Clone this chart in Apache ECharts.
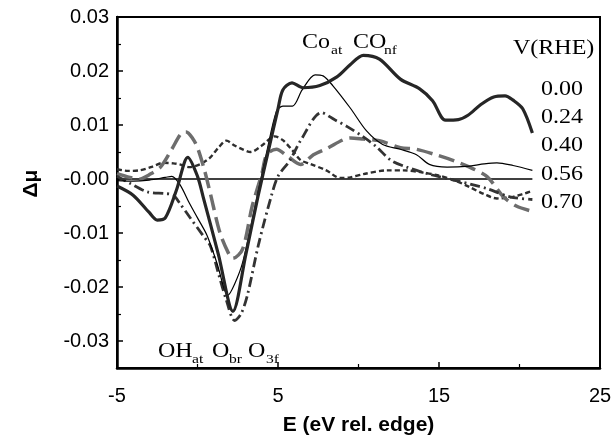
<!DOCTYPE html>
<html>
<head>
<meta charset="utf-8">
<script src="https://cdn.jsdelivr.net/npm/echarts@6/dist/echarts.min.js"></script>
<style>html,body{margin:0;padding:0;background:#fff}#c{width:615px;height:441px}</style>
</head>
<body>
<div id="c"></div>
<script>
// ---- data ----
var xTickValues = [-5, 5, 15, 25];
var xMinorTicks = [0, 10, 20];
var yTickValues = [-0.03, -0.02, -0.01, 0, 0.01, 0.02, 0.03];
var yTickLabels = ['-0.03', '-0.02', '-0.01', '-0.00', '0.01', '0.02', '0.03'];
var yMinorTicks = [-0.025, -0.015, -0.005, 0.005, 0.015, 0.025];
var voltageLabels = ['0.00', '0.24', '0.40', '0.56', '0.70'];

// 0.00 V : thick solid
var eA  = [-5, -4, -3, -2.5, -2, -1.3, -0.6, 0, 0.35, 1.3, 2.2, 3.0, 3.75, 4.5, 5.0, 5.3, 5.87, 6.55, 7.6, 8.66, 9.5, 10.3, 11.3, 12.6, 13.8, 14.6, 15.4, 16.2, 16.8, 17.6, 18.4, 19.1, 19.6, 20.2, 20.8];
var muA = [-0.0013, -0.003, -0.0062, -0.0076, -0.0072, -0.002, 0.004, 0.0005, -0.0033, -0.014, -0.0245, -0.014, -0.0033, 0.0065, 0.013, 0.0165, 0.0178, 0.0169, 0.0173, 0.0189, 0.0212, 0.0229, 0.0222, 0.0185, 0.0167, 0.0145, 0.0109, 0.011, 0.0118, 0.0138, 0.0152, 0.0154, 0.0146, 0.013, 0.0085];

// 0.24 V : thin solid
var eB  = [-5, -4, -3, -2, -1.6, -1.1, -0.5, 0, 0.6, 1.2, 1.9, 2.3, 2.8, 3.7, 4.3, 4.9, 5.3, 5.9, 6.5, 7.3, 7.8, 8.4, 9.5, 10.5, 11.5, 12.6, 13.6, 14.4, 15.5, 16.9, 17.8, 18.6, 19.6, 20.8];
var muB = [-0.0003, -0.0004, -0.0002, 0.0003, 0.0005, -0.001, -0.0045, -0.0072, -0.0105, -0.0155, -0.0215, -0.0195, -0.0155, -0.0033, 0.005, 0.0125, 0.0135, 0.0135, 0.0165, 0.0193, 0.0191, 0.0173, 0.0131, 0.0089, 0.0064, 0.0055, 0.0045, 0.0027, 0.0022, 0.0024, 0.0028, 0.003, 0.0025, 0.0016];

// 0.40 V : dash-dot
var eC  = [-5, -4.2, -3.1, -2, -1.5, -1.1, -0.5, 0.35, 0.8, 1.3, 1.8, 2.3, 2.7, 3.1, 3.8, 4.6, 5.0, 5.75, 6.4, 7.7, 8.5, 9.3, 10.3, 11.1, 12.0, 13.0, 14.5, 15.9, 17.0, 18.0, 19.4, 20.8];
var muC = [0.0005, -0.0008, -0.0024, -0.0027, -0.003, -0.0045, -0.007, -0.0105, -0.0124, -0.0175, -0.0225, -0.0262, -0.025, -0.0215, -0.012, -0.003, 0.0005, 0.0035, 0.0071, 0.0123, 0.011, 0.0097, 0.0078, 0.006, 0.0035, 0.0022, 0.0008, -0.0002, -0.001, -0.0018, -0.0033, -0.0038];

// 0.56 V : grey long dash
var eD  = [-5, -4.2, -3.6, -3, -2.3, -1.6, -1, -0.7, -0.3, 0, 0.4, 0.8, 1.4, 2.0, 2.2, 2.8, 3.4, 4.0, 4.3, 4.9, 5.6, 6.4, 7.2, 8.0, 9.5, 10.3, 11.3, 12.6, 13.6, 14.9, 16.0, 16.9, 18.0, 19.0, 19.8, 20.8];
var muD = [0.001, 0.0003, 0.0, 0.0008, 0.0022, 0.0055, 0.0085, 0.0087, 0.0075, 0.0058, 0.002, -0.0027, -0.01, -0.0142, -0.0147, -0.013, -0.005, 0.001, 0.0045, 0.0055, 0.0042, 0.0027, 0.0045, 0.0056, 0.0076, 0.0074, 0.0071, 0.0058, 0.0055, 0.0044, 0.0033, 0.0022, 0.0004, -0.0033, -0.005, -0.006];

// 0.70 V : short dash
var eE  = [-5, -4.3, -3.6, -2.9, -2.1, -1.5, -1.1, -0.5, 0.2, 0.8, 1.3, 1.8, 2.3, 2.8, 3.3, 4.0, 4.8, 5.3, 5.9, 6.4, 7.0, 8.0, 8.85, 9.5, 10.3, 11.8, 12.8, 14.0, 14.9, 16.0, 16.9, 17.8, 18.6, 19.6, 20.2, 20.8];
var muE = [0.0018, 0.0015, 0.0016, 0.0022, 0.003, 0.0029, 0.0027, 0.0022, 0.0028, 0.004, 0.0058, 0.0071, 0.0062, 0.0055, 0.005, 0.0062, 0.0079, 0.0072, 0.0053, 0.0035, 0.0028, 0.0016, 0.0002, 0.0003, 0.0009, 0.0016, 0.0016, 0.0012, 0.0007, -0.0003, -0.0015, -0.0028, -0.0036, -0.0033, -0.0028, -0.0022];

// zero reference line
var eZero = [-5, 20.8];
var muZero = [0, 0];

function pairs(xs, ys) { return xs.map(function (x, i) { return [x, ys[i]]; }); }

var chart = echarts.init(document.getElementById('c'), null, {renderer: 'canvas'});
var SANS = "'Liberation Sans', Arial, sans-serif";
var SERIF = "'Liberation Serif', 'Times New Roman', serif";

function txt(str, x, baseline, size) {
  return {
    type: 'text', x: x, y: baseline - 0.34 * size, scaleX: 1.2, z: 100,
    style: {text: str, font: size + 'px ' + SERIF, fill: '#000', textAlign: 'left', textVerticalAlign: 'middle', verticalAlign: 'middle'}
  };
}

var graphics = [
  txt('Co', 302, 50, 20), txt('at', 331, 55, 13),
  txt('CO', 353, 50, 20), txt('nf', 384, 55, 13),
  txt('V(RHE)', 513, 56, 20),
  txt('OH', 158, 359, 20), txt('at', 192, 364, 13),
  txt('O', 212, 359, 20), txt('br', 229, 364, 13),
  txt('O', 248, 359, 20), txt('3f', 266, 364, 13)
];
var vBase = [97, 125, 153, 182, 210];
voltageLabels.forEach(function (v, i) { graphics.push(txt(v, 541, vBase[i], 20)); });

var option = {
  animation: false,
  backgroundColor: '#fff',
  grid: {left: 117, right: 15, top: 17, bottom: 67, show: true, borderColor: '#000', borderWidth: 2, backgroundColor: 'transparent'},
  xAxis: [{
    type: 'value', min: -5, max: 25, position: 'bottom',
    axisLine: {onZero: false, lineStyle: {color: '#000', width: 2.5}},
    axisTick: {inside: true, length: 6, customValues: xTickValues, lineStyle: {color: '#000', width: 1.5}},
    axisLabel: {customValues: xTickValues, color: '#000', fontSize: 20, fontFamily: SANS, margin: 18,
      formatter: function (v) { return String(v); }},
    splitLine: {show: false},
    name: 'E (eV rel. edge)', nameLocation: 'middle', nameGap: 47,
    nameTextStyle: {color: '#000', fontSize: 21, fontWeight: 'bold', fontFamily: SANS}
  }, {
    type: 'value', min: -5, max: 25, position: 'bottom', gridIndex: 0,
    axisLine: {show: false, onZero: false},
    axisTick: {inside: true, length: 4, customValues: xMinorTicks, lineStyle: {color: '#000', width: 1.2}},
    axisLabel: {show: false}, splitLine: {show: false}
  }],
  yAxis: [{
    type: 'value', min: -0.035, max: 0.03, position: 'left',
    axisLine: {onZero: false, lineStyle: {color: '#000', width: 2.5}},
    axisTick: {inside: true, length: 6, customValues: yTickValues, lineStyle: {color: '#000', width: 1.5}},
    axisLabel: {customValues: yTickValues, color: '#000', fontSize: 20, fontFamily: SANS, margin: 8,
      formatter: function (v) {
        for (var i = 0; i < yTickValues.length; i++) { if (Math.abs(yTickValues[i] - v) < 1e-9) return yTickLabels[i]; }
        return '';
      }},
    splitLine: {show: false},
    name: 'Δμ', nameLocation: 'middle', nameRotate: 90, nameGap: 75,
    nameTextStyle: {color: '#000', fontSize: 21, fontWeight: 'bold', fontFamily: SANS, padding: [0, 0, 0, 18]}
  }, {
    type: 'value', min: -0.035, max: 0.03, position: 'left', gridIndex: 0,
    axisLine: {show: false, onZero: false},
    axisTick: {inside: true, length: 4, customValues: yMinorTicks, lineStyle: {color: '#000', width: 1.2}},
    axisLabel: {show: false}, splitLine: {show: false}
  }],
  series: [
    {name: 'zero', type: 'line', data: pairs(eZero, muZero), symbol: 'none', silent: true,
      lineStyle: {color: '#000', width: 1.3}},
    {name: voltageLabels[4], type: 'line', data: pairs(eE, muE), symbol: 'none', smooth: 0.3,
      lineStyle: {color: '#2e2e2e', width: 2.4, type: [5, 3]}},
    {name: voltageLabels[3], type: 'line', data: pairs(eD, muD), symbol: 'none', smooth: 0.3,
      lineStyle: {color: '#6d6d6d', width: 3.5, type: [16, 7]}},
    {name: voltageLabels[2], type: 'line', data: pairs(eC, muC), symbol: 'none', smooth: 0.3,
      lineStyle: {color: '#333', width: 2.8, type: [10, 4, 2, 4]}},
    {name: voltageLabels[1], type: 'line', data: pairs(eB, muB), symbol: 'none', smooth: 0.3,
      lineStyle: {color: '#000', width: 1.2}},
    {name: voltageLabels[0], type: 'line', data: pairs(eA, muA), symbol: 'none', smooth: 0.3,
      lineStyle: {color: '#262626', width: 3.2}}
  ],
  graphic: graphics
};
chart.setOption(option);
</script>
</body>
</html>
